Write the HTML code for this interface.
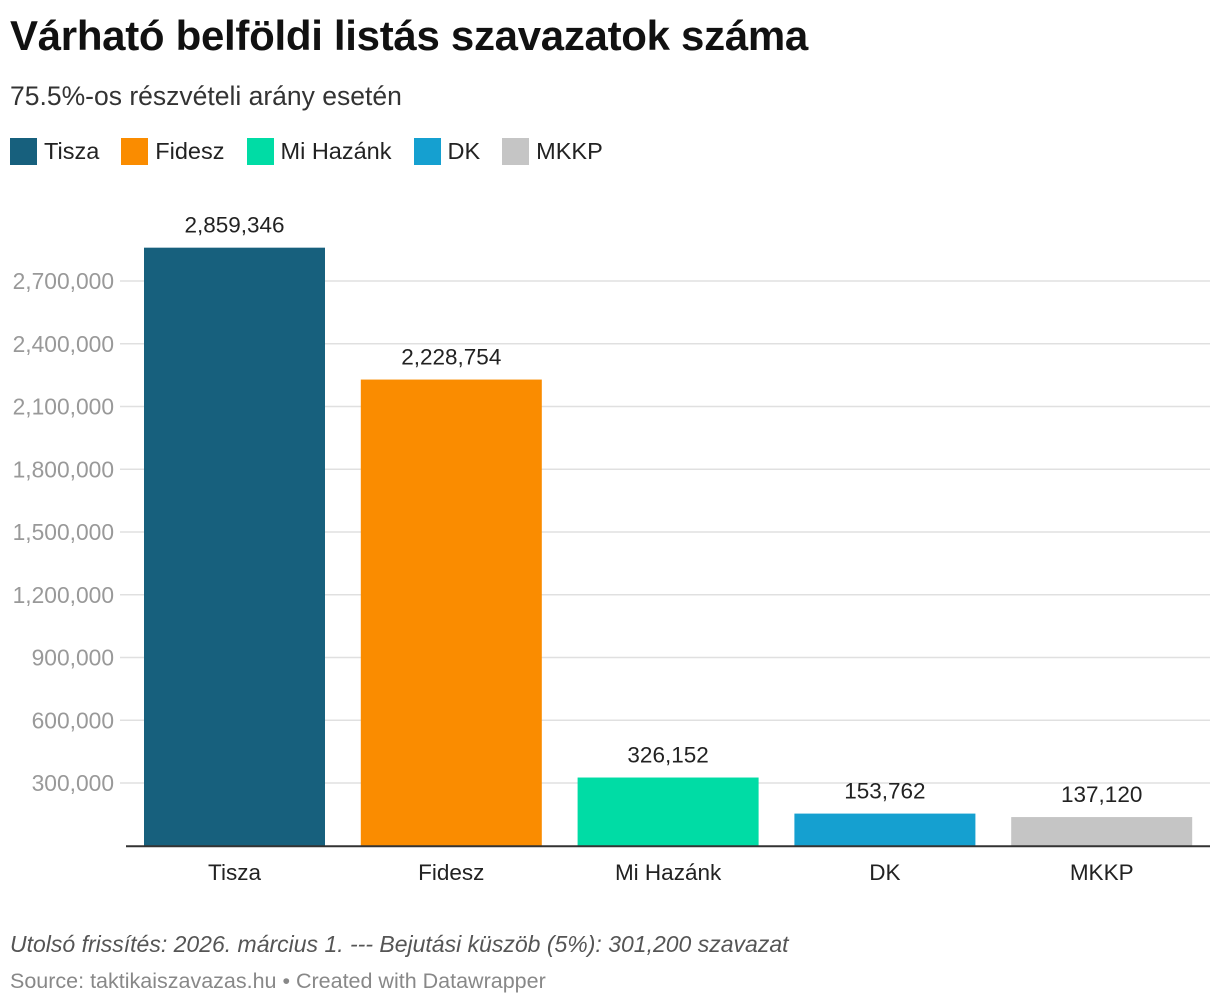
<!DOCTYPE html>
<html><head><meta charset="utf-8">
<style>
body{margin:0;background:#fff;width:1220px;height:1006px;overflow:hidden;font-family:"Liberation Sans",sans-serif;}
#title{position:absolute;left:10px;top:12px;font-size:42px;font-weight:bold;color:#111;letter-spacing:-0.3px}
#sub{position:absolute;left:10px;top:81px;font-size:26.5px;color:#333}
#legend{position:absolute;left:10px;top:138px;display:flex;font-size:23.5px;color:#222}
.li{display:flex;align-items:center;margin-right:22px}
.sw{width:27px;height:27px;margin-right:7px}
#note{position:absolute;left:10px;top:931px;font-size:23px;font-style:italic;color:#555}
#src{position:absolute;left:10px;top:969px;font-size:21.5px;color:#888}
svg{position:absolute;left:0;top:0}
</style></head><body>
<div id="title">Várható belföldi listás szavazatok száma</div>
<div id="sub">75.5%-os részvételi arány esetén</div>
<div id="legend"></div>
<svg id="chart" width="1220" height="1006"></svg>
<div id="note">Utolsó frissítés: 2026. március 1. --- Bejutási küszöb (5%): 301,200 szavazat</div>
<div id="src">Source: taktikaiszavazas.hu • Created with Datawrapper</div>
<script>
const categories=["Tisza","Fidesz","Mi Hazánk","DK","MKKP"];
const values=[2859346,2228754,326152,153762,137120];
const colors=["#17607d","#fa8c00","#00dca5","#15a0d0","#c5c5c5"];
const ticks=[300000,600000,900000,1200000,1500000,1800000,2100000,2400000,2700000];
const NS="http://www.w3.org/2000/svg";
const svg=document.getElementById('chart');
const y0=845.75, pxPer=502/2400000;
const y=v=>y0-v*pxPer;
const x0=144, step=216.8, bw=181;
const x=i=>x0+i*step;
function mk(t,a){const e=document.createElementNS(NS,t);for(const k in a)e.setAttribute(k,a[k]);svg.appendChild(e);return e;}
ticks.forEach(t=>{
 const l=mk('line',{x1:120,x2:1210,y1:y(t),y2:y(t),stroke:'#e0e0e0','stroke-width':1.5});
 
 
 const tx=mk('text',{x:114,y:y(t)+8,'text-anchor':'end','font-size':22.8,fill:'#999'});
 tx.textContent=t.toLocaleString('en-US');
 
 
});
categories.forEach((c,i)=>{
 const r=mk('rect',{x:x(i),y:y(values[i]),width:bw,height:y0-y(values[i]),fill:colors[i]});
 
 
 const v=mk('text',{x:x(i)+bw/2,y:y(values[i])-15,'text-anchor':'middle','font-size':22.5,fill:'#222'});
 v.textContent=values[i].toLocaleString('en-US');
 
 
 const cl=mk('text',{x:x(i)+bw/2,y:880,'text-anchor':'middle','font-size':22.5,fill:'#222'});
 cl.textContent=c;
 
 
});
const base=mk('line',{x1:126,x2:1210,y1:y0+0.5,y2:y0+0.5,stroke:'#333','stroke-width':2});


const lg=document.getElementById('legend');
categories.forEach((c,i)=>{
 const d=document.createElement('div');d.className='li';
 
 
 d.innerHTML='<div class="sw" style="background:'+colors[i]+'"></div><span>'+c+'</span>';
 lg.appendChild(d);
});
</script>
</body></html>
